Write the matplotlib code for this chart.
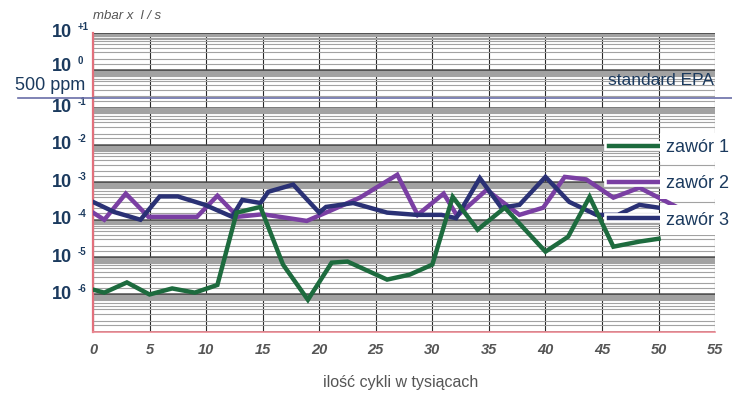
import numpy as np
import matplotlib.pyplot as plt
import matplotlib.transforms as mtransforms
import matplotlib.patheffects as pe
from matplotlib.lines import Line2D
from matplotlib.ticker import FixedLocator, NullFormatter

plt.rcParams['font.family'] = ['Liberation Sans', 'DejaVu Sans']

# leak rate readings (mbar x l/s) against cycles in thousands
x_z1 = [0, 1, 3, 5, 7, 9, 11, 12.7, 14.8, 16.8, 19, 21.1, 22.5, 26, 28, 30,
        31.8, 34, 36.4, 40, 42, 43.9, 46, 48.3, 50]
y_z1 = [1.35e-6, 1.12e-6, 2.1e-6, 1.0e-6, 1.45e-6, 1.12e-6, 1.8e-6, 1.55e-4,
        2.2e-4, 6.3e-6, 7.2e-7, 7.1e-6, 7.6e-6, 2.5e-6, 3.4e-6, 6.3e-6,
        4.1e-4, 5.4e-5, 2.1e-4, 1.4e-5, 3.5e-5, 4.1e-4, 1.9e-5, 2.6e-5, 3.1e-5]

x_z2 = [0, 1, 2.9, 4.9, 9.2, 11, 12.8, 15, 18.9, 20.7, 23.6, 26.9, 28.7, 31,
        32.2, 34.8, 37.7, 39.8, 41.7, 43.6, 46, 48.3, 51.6]
y_z2 = [1.55e-4, 1.0e-4, 5.0e-4, 1.2e-4, 1.2e-4, 4.4e-4, 1.2e-4, 1.4e-4,
        9.3e-5, 1.6e-4, 3.9e-4, 1.6e-3, 1.35e-4, 5.0e-4, 1.26e-4, 6.3e-4,
        1.35e-4, 2.1e-4, 1.4e-3, 1.2e-3, 3.9e-4, 7.2e-4, 2.2e-4]

x_z3 = [0, 1.9, 4.2, 5.9, 7.5, 9.9, 12.3, 13.2, 14.8, 15.5, 17.7, 20, 20.6,
        23, 26, 28.6, 30.8, 32.1, 34.2, 36.1, 37.7, 40, 42.1, 44.5, 46.4,
        48.3, 50]
y_z3 = [3.0e-4, 1.6e-4, 1.0e-4, 4.2e-4, 4.2e-4, 2.5e-4, 1.2e-4, 3.4e-4,
        2.8e-4, 5.6e-4, 8.7e-4, 1.55e-4, 2.2e-4, 2.8e-4, 1.55e-4, 1.35e-4,
        1.35e-4, 1.1e-4, 1.3e-3, 2.1e-4, 2.5e-4, 1.4e-3, 3.0e-4, 1.35e-4,
        1.35e-4, 2.5e-4, 2.1e-4]

series_names = ['zawór 1', 'zawór 2', 'zawór 3']
series_colors = ['#1d6b3e', '#7a3fa3', '#2a3175']

epa_level = 0.18  # 500 ppm
decades = [1, 0, -1, -2, -3, -4, -5, -6]
exp_labels = ['+1', '0', '-1', '-2', '-3', '-4', '-5', '-6']
x_ticks = [0, 5, 10, 15, 20, 25, 30, 35, 40, 45, 50, 55]

navy = '#1b3a5e'
gray = '#555555'

fig = plt.figure(figsize=(7.32, 3.96), dpi=100)
ax = fig.add_axes([0.127, 0.162, 0.85, 0.755])
ax.set_yscale('log')
ax.set_xlim(0, 55)
ax.set_ylim(1e-7, 1e1)

# log graph paper look
paper = [1.5, 2, 3, 4, 5, 6, 7, 7.5, 8, 8.5, 9, 9.5]
levels = [m * 10.0 ** k for k in range(-7, 1) for m in paper]
ax.yaxis.set_minor_locator(FixedLocator(levels))
ax.yaxis.set_minor_formatter(NullFormatter())
ax.set_yticks([10.0 ** k for k in range(-7, 2)])
ax.set_yticklabels([])
ax.grid(which='minor', axis='y', color='#a2a2a2', lw=0.8)
ax.grid(which='major', axis='y', color='#505050', lw=1.8)
ax.set_xticks(x_ticks)
ax.grid(which='major', axis='x', color='#2a2a2a', lw=0.8)
ax.tick_params(which='both', length=0)
ax.set_xticklabels([str(t) for t in x_ticks], fontsize=10.5, style='italic',
                   color=gray, fontweight='bold')
ax.tick_params(axis='x', pad=8)

for s in ['top', 'right']:
    ax.spines[s].set_visible(False)
ax.spines['left'].set_color('#e2707c')
ax.spines['left'].set_linewidth(1.6)
ax.spines['bottom'].set_color('#ec8a94')
ax.spines['bottom'].set_linewidth(1.2)

# data lines
for xs, ys, c in zip([x_z2, x_z3, x_z1], [y_z2, y_z3, y_z1],
                     [series_colors[1], series_colors[2], series_colors[0]]):
    ax.plot(xs, ys, color=c, lw=3.2, solid_joinstyle='miter', zorder=3)

# y labels in "10 ^exp" style
blend = mtransforms.blended_transform_factory(ax.transAxes, ax.transData)
for k, lab in zip(decades, exp_labels):
    dy = 3 if k == 0 else 0
    ax.annotate('10', xy=(-0.034, 10.0 ** k), xycoords=blend,
                xytext=(0, dy), textcoords='offset points',
                ha='right', va='center', fontsize=13, fontweight='bold',
                color=navy, annotation_clip=False)
    ax.annotate(lab, xy=(-0.025, 10.0 ** k), xycoords=blend,
                xytext=(0, dy + 4), textcoords='offset points',
                ha='left', va='center', fontsize=7, fontweight='bold',
                color=navy, annotation_clip=False)

# EPA limit
ax.plot([-0.12, 1.03], [epa_level, epa_level], transform=blend,
        color='#6a6ea8', lw=1.2, clip_on=False, zorder=4)
ax.annotate('500 ppm', xy=(-0.013, epa_level), xycoords=blend,
            xytext=(0, 9), textcoords='offset points', ha='right',
            va='center', fontsize=13, color=navy, annotation_clip=False)
ax.annotate('standard EPA', xy=(0.828, epa_level), xycoords=blend,
            xytext=(0, 13), textcoords='offset points', ha='left',
            va='center', fontsize=12.5, color=navy, annotation_clip=False)

fig.text(0.127, 0.96, 'mbar x  l / s', fontsize=9.5, style='italic',
         color=gray, va='center')
fig.text(0.547, 0.033, 'ilość cykli w tysiącach', fontsize=11.5,
         color=gray, ha='center', va='center')

# legend
handles = [Line2D([], [], color=c, lw=3.2,
                  path_effects=[pe.Stroke(linewidth=7, foreground='white',
                                          capstyle='projecting'),
                                pe.Normal()])
           for c in series_colors]
leg = ax.legend(handles, series_names, loc='upper left',
                bbox_to_anchor=(609 / 732, 1 - 139 / 396),
                bbox_transform=fig.transFigure, frameon=False, fontsize=13,
                handlelength=2.8, handletextpad=0.35, labelspacing=1.07,
                borderpad=0, borderaxespad=0)
for t in leg.get_texts():
    t.set_color(navy)
    t.set_bbox(dict(facecolor='white', edgecolor='none',
                    boxstyle='square,pad=0.35'))
leg.set_zorder(5)

fig.savefig('out.png', dpi=100)
